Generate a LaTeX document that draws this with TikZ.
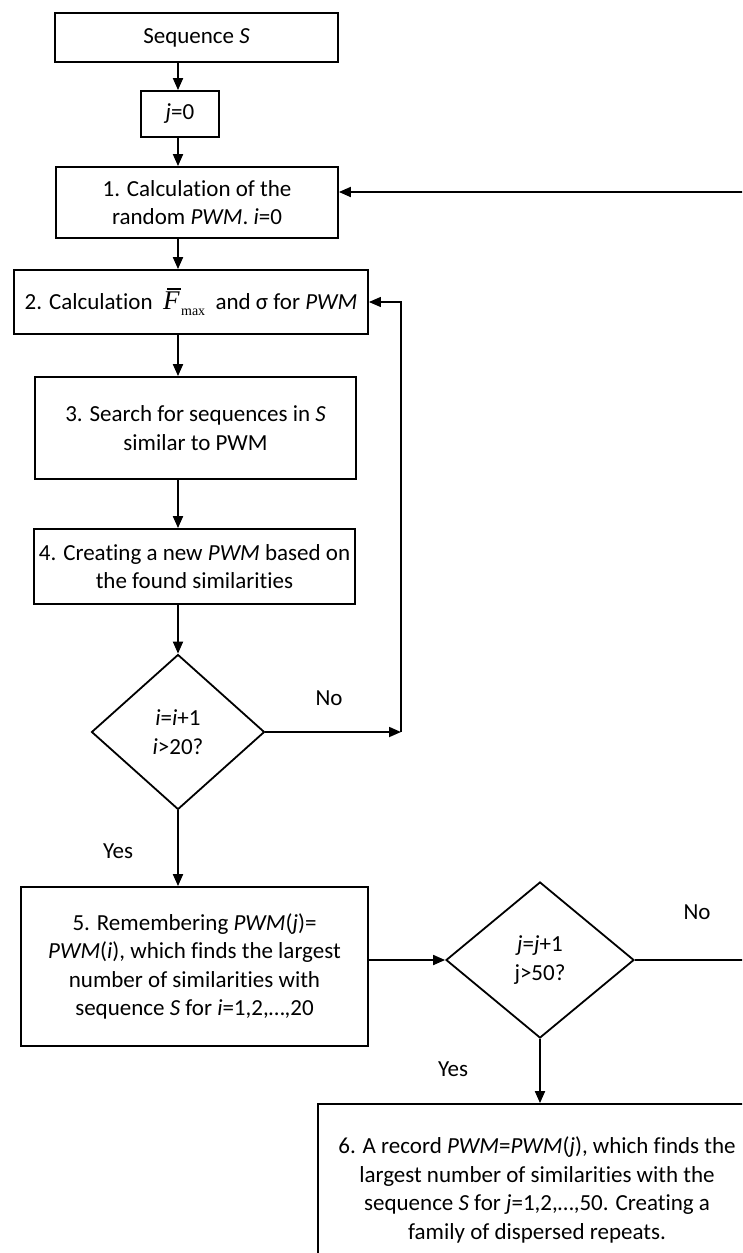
\documentclass[tikz,border=0pt]{standalone}
\usepackage{fontspec}
\setmainfont[Ligatures=NoCommon]{Carlito}
\newfontfamily\tnr{Liberation Serif}
\usetikzlibrary{shapes.geometric,arrows.meta}
\newcommand{\fbarmax}{\mbox{\vbox{\offinterlineskip\moveright 4pt\hbox{\vrule width 14pt height 1.4pt depth 0pt}\kern 2.5pt\hbox{\tnr\itshape\fontsize{27}{27}\selectfont F}}\lower 6pt\hbox{\tnr\fontsize{14}{14}\selectfont max}}}
\tikzset{
  box/.style={draw, line width=1.8pt, align=center, inner sep=0pt,
    font=\fontsize{23}{28.5}\selectfont},
  dia/.style={draw, diamond, line width=1.8pt, align=center, inner sep=0pt,
    font=\fontsize{23}{29}\selectfont},
  lbl/.style={font=\fontsize{23}{26}\selectfont, inner sep=0pt},
  arr/.style={-{Triangle[length=12pt,width=10pt]}, line width=1.8pt},
  arrthin/.style={-{Triangle[length=12pt,width=10pt]}, line width=1.2pt},
}
\begin{document}
\begin{tikzpicture}[x=1pt,y=-1pt]
\useasboundingbox (0,0) rectangle (742,1253);
\clip (0,0) rectangle (742,1253);
\node[box, minimum width=283pt, minimum height=49pt] (seq) at (196.5,37.5) {Sequence \textit{S}};
\node[box, minimum width=78pt, minimum height=46pt] (j0) at (180,114) {\textit{j}=0};
\node[box, minimum width=282pt, minimum height=71pt] (b1) at (197,202.5) {1. Calculation of the\\random \textit{PWM}. \textit{i}=0};
\node[box, minimum width=354pt, minimum height=64pt] (b2) at (191,302) {2. Calculation \ \fbarmax\ \ and σ for \textit{PWM}};
\node[box, minimum width=321pt, minimum height=102pt] (b3) at (195.5,428) {3. Search for sequences in \textit{S}\\similar to PWM};
\node[box, minimum width=321pt, minimum height=75pt] (b4) at (194.5,566.5) {4. Creating a new \textit{PWM} based on\\the found similarities};
\node[dia, minimum width=173pt, minimum height=155pt] (d1) at (178,732) {\textit{i}=\textit{i}+1\\\textit{i}>20?};
\node[box, minimum width=347pt, minimum height=159pt] (b5) at (194.5,966.5) {5. Remembering \textit{PWM}(\textit{j})=\\\textit{PWM}(\textit{i}), which finds the largest\\number of similarities with\\sequence \textit{S} for \textit{i}=1,2,…,20};
\node[dia, minimum width=188pt, minimum height=156pt] (d2) at (540,960) {\textit{j}=\textit{j}+1\\j>50?};
\node[box, minimum width=438pt, minimum height=172pt] (b6) at (537,1190) {6. A record \textit{PWM}=\textit{PWM}(\textit{j}), which finds the\\largest number of similarities with the\\sequence \textit{S} for \textit{j}=1,2,…,50. Creating a\\family of dispersed repeats.};
\node[lbl] (no1) at (329,698) {No};
\node[lbl] (yes1) at (118,851) {Yes};
\node[lbl] (no2) at (697,912) {No};
\node[lbl] (yes2) at (453,1069) {Yes};
\coordinate (c1) at (401,732);
\coordinate (r1) at (770,960);
\coordinate (r2) at (770,192);
\draw[arr] (seq.south -| d1) -- (j0.north -| d1);
\draw[arr] (j0.south -| d1) -- (b1.north -| d1);
\draw[arr] (b1.south -| d1) -- (b2.north -| d1);
\draw[arr] (b2.south -| d1) -- (b3.north -| d1);
\draw[arr] (b3.south -| d1) -- (b4.north -| d1);
\draw[arr] (b4.south -| d1) -- (d1.north);
\draw[arr] (d1.south) -- (b5.north -| d1);
\draw[arr] (d1.east) -- (c1);
\draw[arrthin] (c1) -- (c1 |- b2) -- (b2.east);
\draw[arr] (b5.east |- d2) -- (d2.west);
\draw[arr] (d2.south) -- (b6.north -| d2);
\draw[arr] (d2.east) -- (r1) -- (r2) -- (b1.east |- r2);
\end{tikzpicture}
\end{document}
